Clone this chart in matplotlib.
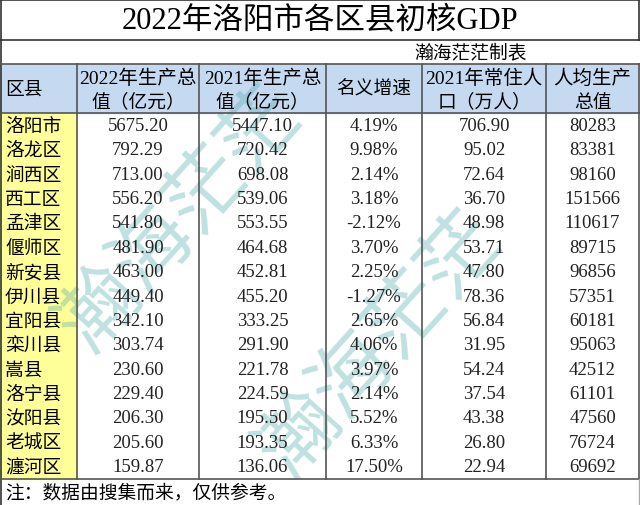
import matplotlib.pyplot as plt
from matplotlib.patches import Rectangle

plt.rcParams['font.family'] = ['Noto Sans CJK SC', 'DejaVu Sans']

title = "2022年洛阳市各区县初核GDP"
subtitle = "瀚海茫茫制表"
note = "注：数据由搜集而来，仅供参考。"
headers = [["区县"], ["2022年生产总", "值（亿元）"], ["2021年生产总", "值（亿元）"],
           ["名义增速"], ["2021年常住人", "口（万人）"], ["人均生产", "总值"]]

regions = ["洛阳市", "洛龙区", "涧西区", "西工区", "孟津区", "偃师区", "新安县", "伊川县",
           "宜阳县", "栾川县", "嵩县", "洛宁县", "汝阳县", "老城区", "瀍河区"]
gdp_2022 = ["5675.20", "792.29", "713.00", "556.20", "541.80", "481.90", "463.00", "449.40",
            "342.10", "303.74", "230.60", "229.40", "206.30", "205.60", "159.87"]
gdp_2021 = ["5447.10", "720.42", "698.08", "539.06", "553.55", "464.68", "452.81", "455.20",
            "333.25", "291.90", "221.78", "224.59", "195.50", "193.35", "136.06"]
growth = ["4.19%", "9.98%", "2.14%", "3.18%", "-2.12%", "3.70%", "2.25%", "-1.27%",
          "2.65%", "4.06%", "3.97%", "2.14%", "5.52%", "6.33%", "17.50%"]
population = ["706.90", "95.02", "72.64", "36.70", "48.98", "53.71", "47.80", "78.36",
              "56.84", "31.95", "54.24", "37.54", "43.38", "26.80", "22.94"]
per_capita = ["80283", "83381", "98160", "151566", "110617", "89715", "96856", "57351",
              "60181", "95063", "42512", "61101", "47560", "76724", "69692"]

columns = [gdp_2022, gdp_2021, growth, population, per_capita]

# layout in pixels
W, H = 640, 506
col_x = [0, 77, 199, 326, 422, 546, 639]
y_title = 41
y_head0, y_head1 = 65, 114
row_h = (480 - y_head1) / len(regions)
y_end = y_head1 + row_h * len(regions)

fig = plt.figure(figsize=(6.4, 5.06), dpi=100)
ax = fig.add_axes([0, 0, 1, 1])
ax.set_xlim(0, W)
ax.set_ylim(H, 0)
ax.axis('off')

num_font = ['Liberation Serif', 'Noto Sans CJK SC']
line_c = '#555555'
fs = 13.5

# backgrounds
ax.add_patch(Rectangle((0, y_head0), W, y_head1 - y_head0, color='#c5d9f1', zorder=1))
ax.add_patch(Rectangle((0, y_head1), col_x[1], y_end - y_head1, color='#ffff99', zorder=1))

# watermark
for (cx, cy) in [(180, 220), (380, 345)]:
    ax.text(cx, cy, "瀚海茫茫", fontsize=58, color='#4aa8a8', alpha=0.35, rotation=48,
            ha='center', va='center', fontweight='light', zorder=2)

# lines
ax.plot([1, 1], [1, H], color='#333333', lw=1.2, zorder=4)
ax.plot([1, W - 1], [1, 1], color='#333333', lw=1.2, zorder=4)
ax.plot([W - 1, W - 1], [1, y_title], color='#333333', lw=1.2, zorder=4)
ax.plot([0, W], [y_title, y_title], color='#333333', lw=1.2, zorder=4)
for y in [y_head0, y_head1, y_end]:
    ax.plot([0, W], [y, y], color=line_c, lw=1.2, zorder=4)
for x in col_x[1:]:
    ax.plot([x, x], [y_head0, y_end], color=line_c, lw=1.2, zorder=4)
ax.plot([W - 1, W - 1], [y_end, H], color='#aaaaaa', lw=1, zorder=4)

# title and subtitle
ax.text(W / 2, 21, title, fontsize=22, ha='center', va='center', family=num_font, zorder=5)
ax.text(471, 53, subtitle, fontsize=13.5, ha='center', va='center', zorder=5)

# header
for i, lines in enumerate(headers):
    cx = (col_x[i] + col_x[i + 1]) / 2
    if i == 0:
        ax.text(5, (y_head0 + y_head1) / 2, lines[0], fontsize=fs, ha='left', va='center', zorder=5)
    elif len(lines) == 1:
        ax.text(cx, (y_head0 + y_head1) / 2, lines[0], fontsize=fs, ha='center', va='center', zorder=5)
    else:
        ax.text(cx, y_head0 + 14, lines[0], fontsize=fs + 0.5, ha='center', va='center',
                family=num_font, zorder=5)
        ax.text(cx, y_head0 + 37, lines[1], fontsize=fs, ha='center', va='center', zorder=5)

# rows
for r, name in enumerate(regions):
    cy = y_head1 + row_h * (r + 0.5)
    ax.text(5, cy, name, fontsize=fs, ha='left', va='center', zorder=5)
    for c, col in enumerate(columns):
        cx = (col_x[c + 1] + col_x[c + 2]) / 2
        ax.text(cx, cy, col[r], fontsize=fs, ha='center', va='center', family=num_font,
                color='#222222', zorder=5)

ax.text(5, (y_end + H) / 2, note, fontsize=fs, ha='left', va='center', zorder=5)

fig.savefig('out.png', dpi=100)
